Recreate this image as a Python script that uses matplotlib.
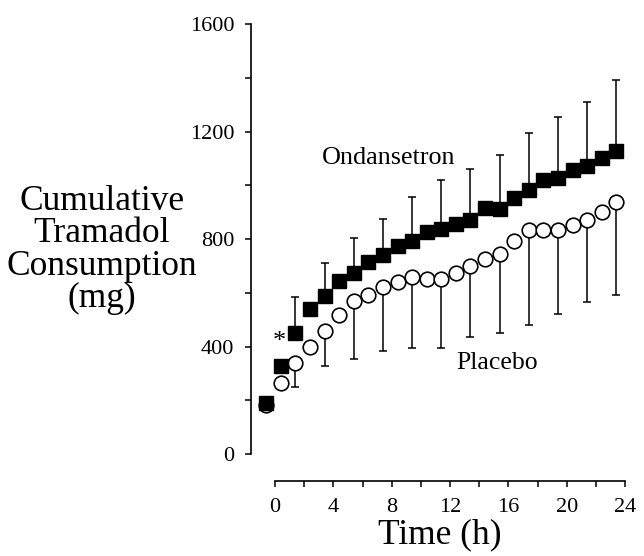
import matplotlib
matplotlib.use("Agg")
import matplotlib.pyplot as plt
from matplotlib.ticker import MultipleLocator

plt.rcParams['font.family'] = ['Liberation Serif', 'DejaVu Serif']

# time points (h), hourly readings, plotted slightly left of the hour
time_h = [-0.6, 0.4, 1.4, 2.4, 3.4, 4.4, 5.4, 6.4, 7.4, 8.4, 9.4, 10.4, 11.4,
          12.4, 13.4, 14.4, 15.4, 16.4, 17.4, 18.4, 19.4, 20.4, 21.4, 22.4, 23.4]

ondansetron = [190, 328, 452, 541, 588, 643, 674, 715, 740, 773, 792, 825, 838,
               857, 872, 916, 912, 953, 981, 1018, 1027, 1058, 1070, 1101, 1126]
placebo = [184, 263, 340, 400, 458, 516, 569, 591, 621, 640, 658, 652, 652,
           674, 699, 726, 746, 792, 833, 835, 832, 854, 872, 901, 937]

# error bars shown every second point (index 2, 4, ... 24)
err_idx = [2, 4, 6, 8, 10, 12, 14, 16, 18, 20, 22, 24]
ond_upper = [584, 710, 804, 875, 956, 1021, 1059, 1111, 1194, 1253, 1308, 1390]
plc_lower = [251, 328, 355, 382, 396, 396, 434, 452, 481, 520, 565, 591]

fig = plt.figure(figsize=(6.44, 5.56), dpi=100)
ax = fig.add_axes([251 / 644, (556 - 481) / 556, (628 - 251) / 644, (481 - 24) / 556])

ex = [time_h[i] for i in err_idx]
ax.errorbar(ex, [ondansetron[i] for i in err_idx],
            yerr=[[0] * len(err_idx), [u - ondansetron[i] for u, i in zip(ond_upper, err_idx)]],
            fmt='none', ecolor='black', elinewidth=1.1, capsize=3, capthick=1.1, zorder=1)
ax.errorbar(ex, [placebo[i] for i in err_idx],
            yerr=[[placebo[i] - l for l, i in zip(plc_lower, err_idx)], [0] * len(err_idx)],
            fmt='none', ecolor='black', elinewidth=1.1, capsize=3, capthick=1.1, zorder=1)

ax.plot(time_h, placebo, 'o', ms=10.5, mfc='white', mec='black', mew=1.2, zorder=3)
ax.plot(time_h, ondansetron, 's', ms=9.5, mfc='black', mec='black', zorder=4)

ax.text(3.2, 1102, 'Ondansetron', fontsize=18.8, va='center', ha='left')
ax.text(12.4, 338, 'Placebo', fontsize=18.5, va='center', ha='left')
ax.text(0.3, 418, '*', fontsize=19, va='center', ha='center')

ax.set_xlim(-1.65, 24.2)
ax.set_ylim(-100, 1600)
ax.set_xticks([0, 4, 8, 12, 16, 20, 24])
ax.xaxis.set_minor_locator(MultipleLocator(2))
ax.set_yticks([0, 400, 800, 1200, 1600])
ax.yaxis.set_minor_locator(MultipleLocator(200))

for s in ['top', 'right']:
    ax.spines[s].set_visible(False)
ax.spines['left'].set_bounds(0, 1600)
ax.spines['bottom'].set_bounds(0, 24)
ax.spines['left'].set_linewidth(1.2)
ax.spines['bottom'].set_linewidth(1.2)
ax.tick_params(which='both', direction='out', length=4, width=1.1, labelsize=16)
ax.tick_params(axis='x', pad=8)
ax.tick_params(axis='y', pad=8)

ax.set_xlabel('Time (h)', fontsize=25.5, labelpad=1)
fig.text(102 / 644, 1 - 250 / 556, 'Cumulative\nTramadol\nConsumption\n(mg)',
         fontsize=25.5, ha='center', va='center', linespacing=0.98)

fig.savefig('out.png', dpi=100)
